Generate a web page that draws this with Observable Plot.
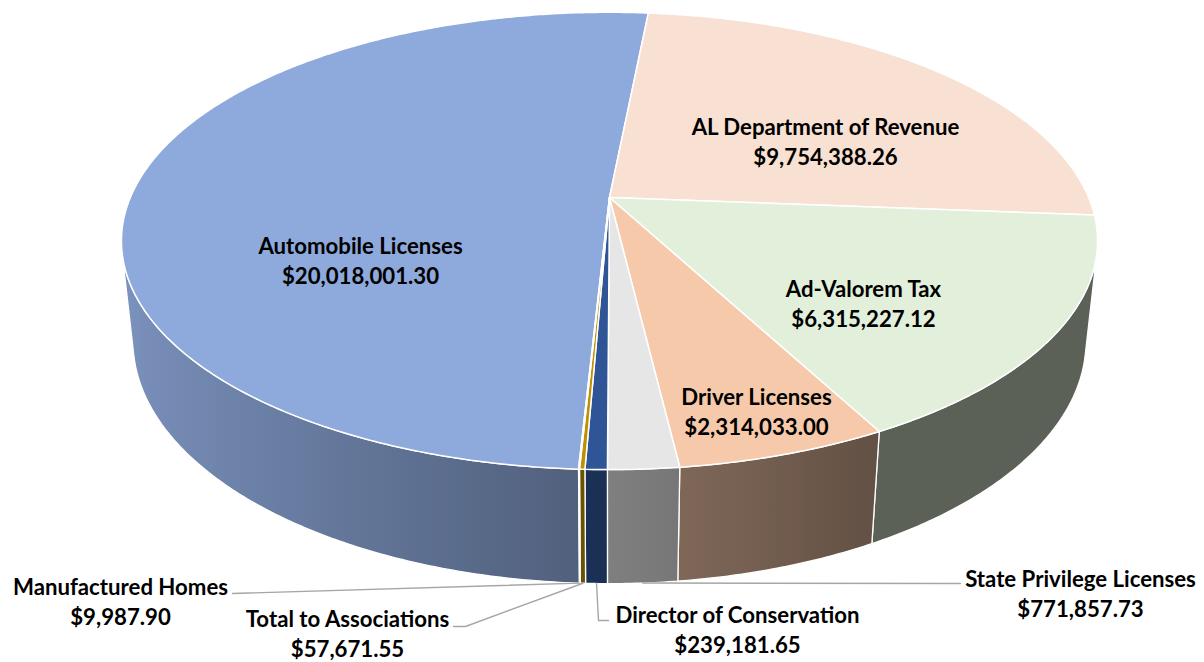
<!DOCTYPE html>
<html>
<head>
<meta charset="utf-8">
<script src="https://cdn.jsdelivr.net/npm/d3@7"></script>
<script src="https://cdn.jsdelivr.net/npm/@observablehq/plot@0.6"></script>
<style>
  html, body { margin: 0; padding: 0; background: #ffffff; }
  #chart { width: 1204px; height: 662px; }
</style>
</head>
<body>
<div id="chart"></div>
<script>
// ---------- DATA ----------
const categories = [
  "Automobile Licenses",
  "AL Department of Revenue",
  "Ad-Valorem Tax",
  "Driver Licenses",
  "State Privilege Licenses",
  "Director of Conservation",
  "Total to Associations",
  "Manufactured Homes"
];
const amounts = [20018001.30, 9754388.26, 6315227.12, 2314033.00, 771857.73, 239181.65, 57671.55, 9987.90];
const sliceColors = ["#8EA9DB", "#F8E0D2", "#E2EFDA", "#F6C9AA", "#E7E6E6", "#2F5597", "#BF9000", "#A5A5A5"];

// ---------- LAYOUT (not data) ----------
const W = 1204, H = 662;
const firstSliceAngle = 183;            // degrees, clockwise from 12 o'clock
const cam = {cx: 609, cy: 197, f: 2239, r: 0.214, sinE: 0.46, cosE: 0.888, depth: 0.051};
// label block centres, in category order
const labelPos = [[360, 259], [825, 140], [863, 302], [756, 410], [1080, 592], [737, 628], [347, 632], [120, 600]];
// leader elbows for outside labels (index -> points after the slice anchor)
const leaderElbows = {7: [[232, 593]], 6: [[465, 626], [453, 626]], 5: [[598, 620], [608, 620]], 4: [[960, 583]]};
const FONT = 22.2;

// ---------- GEOMETRY ----------
const rad = Math.PI / 180;
function project(a, rho, level) {
  const t = a * rad;
  const X = cam.r * rho * Math.sin(t);
  const Z = -cam.r * rho * Math.cos(t);
  const Y = -cam.depth * level;
  const w = 1 - (Y * cam.sinE + Z * cam.cosE);
  const u = Y * cam.cosE - Z * cam.sinE;
  return [cam.cx + cam.f * X / w, cam.cy - cam.f * u / w];
}
function arc(a0, a1, level) {
  const n = Math.max(2, Math.ceil(Math.abs(a1 - a0) / 0.5) + 1);
  const pts = [];
  for (let k = 0; k < n; k++) pts.push(project(a0 + (a1 - a0) * k / (n - 1), 1, level));
  return pts;
}
const total = d3.sum(amounts);
let acc = firstSliceAngle;
const slices = amounts.map((v, i) => {
  const a0 = acc, a1 = acc + 360 * v / total;
  acc = a1;
  return {i, a0, a1, mid: (a0 + a1) / 2};
});

// visible part of outer wall
const lim = Math.acos(-cam.r / cam.cosE) / rad; // ~103.9
const visLo = lim, visHi = 360 - lim;
const shade = a => Math.max(0.405, Math.min(1, 0.553 + 0.327 * Math.cos((a - 270) * rad)));

const walls = [];
slices.forEach(s => {
  for (const off of [0, -360, 360]) {
    const lo = Math.max(s.a0 + off, visLo), hi = Math.min(s.a1 + off, visHi);
    if (hi > lo) {
      const top = arc(lo, hi, 0), bot = arc(hi, lo, 1);
      const pts = top.concat(bot).map(([x, y]) => ({x, y}));
      const xs = top.map(p => p[0]);
      const stops = [];
      const xmin = d3.min(xs), xmax = d3.max(xs);
      const n = Math.max(2, Math.ceil((hi - lo) / 2) + 1);
      for (let k = 0; k < n; k++) {
        const a = lo + (hi - lo) * k / (n - 1);
        const px = project(a, 1, 0)[0];
        const f = shade(a);
        const c = d3.rgb(sliceColors[s.i]);
        stops.push({offset: xmax > xmin ? (px - xmin) / (xmax - xmin) : 0, color: d3.rgb(c.r * f, c.g * f, c.b * f).formatHex()});
      }
      stops.sort((p, q) => p.offset - q.offset);
      walls.push({id: `wall${s.i}_${walls.length}`, pts, xmin, xmax, stops});
    }
  }
});

const tops = slices.map(s => {
  const pts = [project(0, 0, 0)].concat(arc(s.a0, s.a1, 0)).map(([x, y]) => ({x, y}));
  return {i: s.i, pts};
});

const leaders = [];
Object.entries(leaderElbows).forEach(([i, elbows]) => {
  const s = slices[+i];
  const anchor = project(s.mid, 1, 1);
  [anchor].concat(elbows).forEach(([x, y]) => leaders.push({id: i, x, y}));
});

const fmt = d3.format("$,.2f");
const labels = categories.map((c, i) => ({x: labelPos[i][0], y: labelPos[i][1], text: c + "\n" + fmt(amounts[i])}));

// gradient defs as a render-function mark
const defsMark = () => {
  const defs = d3.create("svg:defs");
  walls.forEach(w => {
    const g = defs.append("linearGradient").attr("id", w.id).attr("gradientUnits", "userSpaceOnUse")
      .attr("x1", w.xmin).attr("x2", w.xmax).attr("y1", 0).attr("y2", 0);
    w.stops.forEach(st => g.append("stop").attr("offset", st.offset).attr("stop-color", st.color));
  });
  return defs.node();
};

const chart = Plot.plot({
  width: W,
  height: H,
  margin: 0,
  x: {domain: [0, W], range: [0, W], axis: null},
  y: {domain: [0, H], range: [0, H], axis: null},
  style: {background: "#ffffff", fontFamily: "Lato, 'Open Sans', sans-serif"},
  marks: [
    defsMark,
    ...walls.map(w => Plot.line(w.pts, {x: "x", y: "y", fill: `url(#${w.id})`, stroke: "#ffffff", strokeWidth: 1.3, curve: "linear-closed"})),
    ...tops.map(t => Plot.line(t.pts, {x: "x", y: "y", fill: sliceColors[t.i], stroke: "#ffffff", strokeWidth: 1.5, curve: "linear-closed", strokeLinejoin: "round"})),
    Plot.line(leaders, {x: "x", y: "y", z: "id", stroke: "#A6A6A6", strokeWidth: 1.4}),
    Plot.text(labels, {x: "x", y: "y", text: "text", fontSize: FONT, fontWeight: "bold", fill: "#000000", lineHeight: 30 / FONT, textAnchor: "middle", lineAnchor: "middle"})
  ]
});
document.getElementById("chart").appendChild(chart);
</script>
</body>
</html>
